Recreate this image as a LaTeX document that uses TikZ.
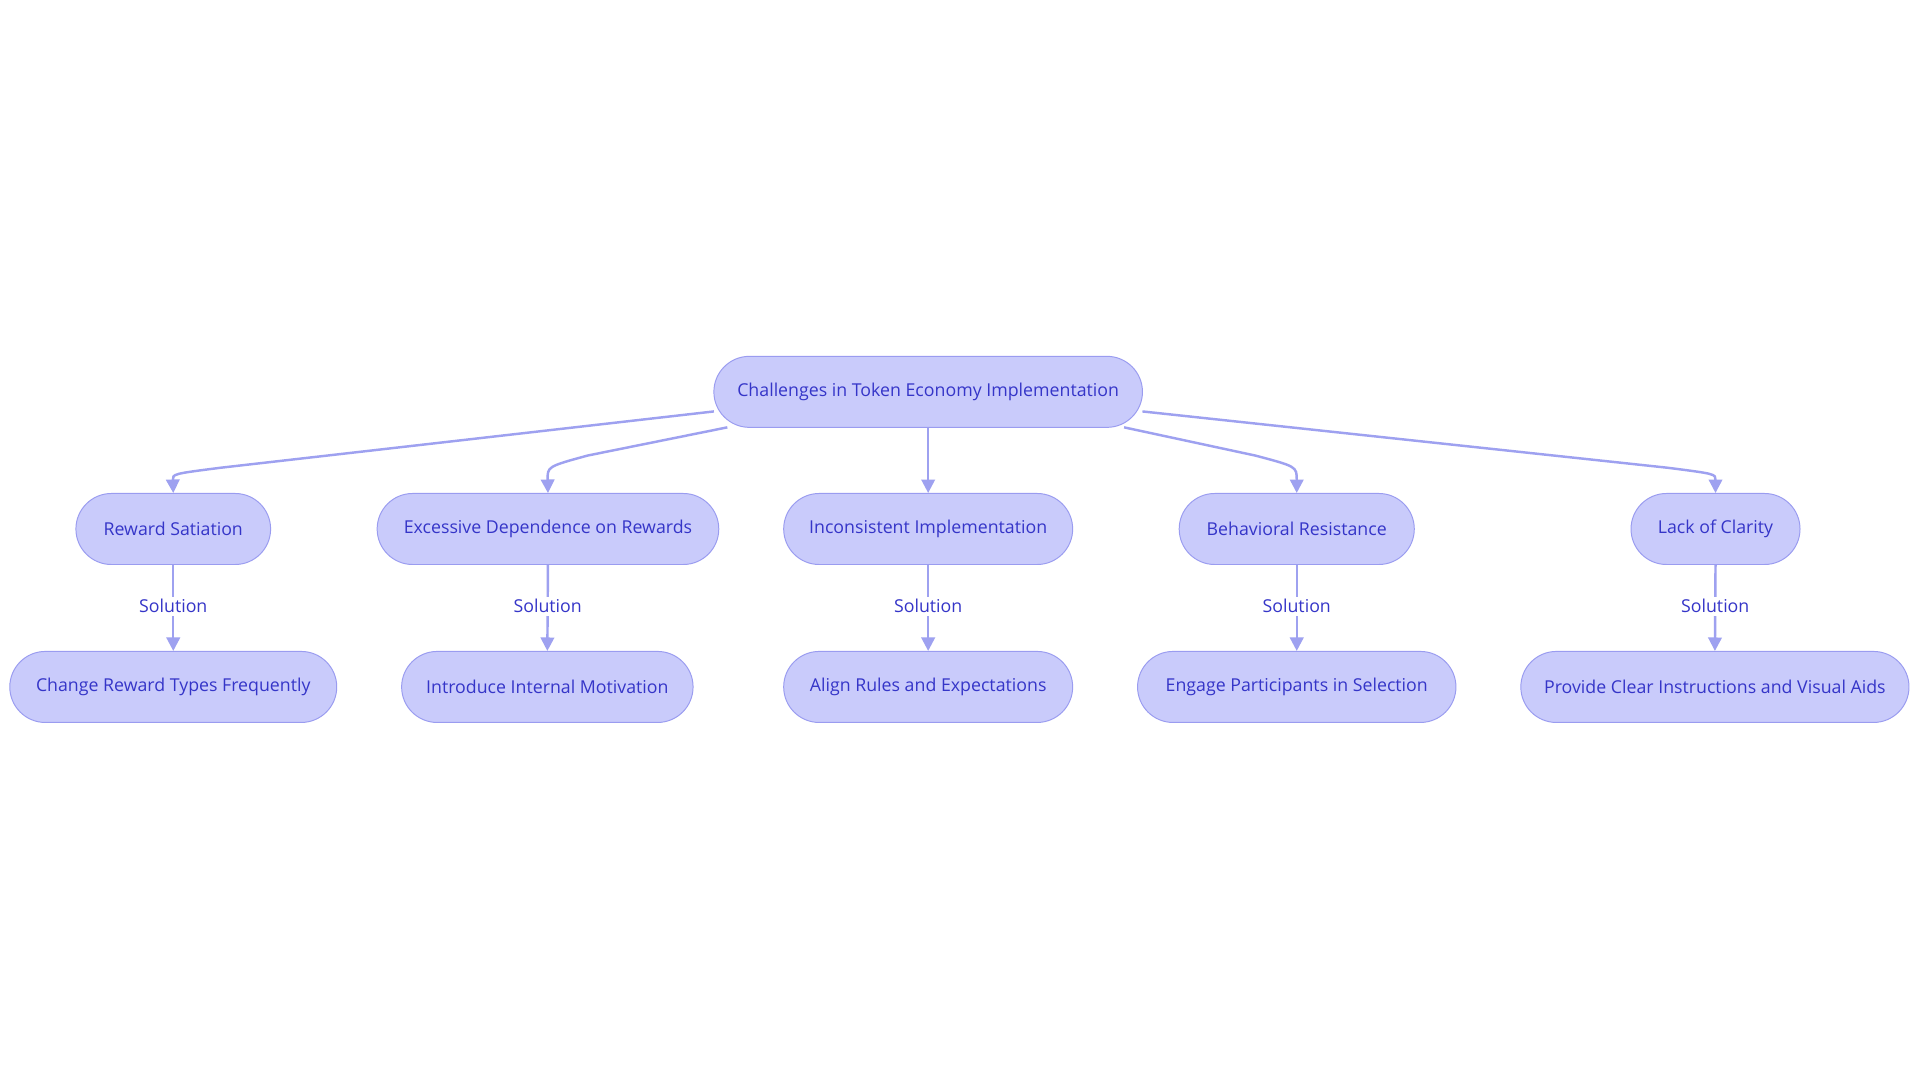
\documentclass[tikz,border=0pt]{standalone}
\usepackage{fontspec}
\setmainfont{Open Sans}
\usetikzlibrary{arrows.meta}
\definecolor{nfill}{HTML}{C9CBFB}
\definecolor{nline}{HTML}{9A9CF0}
\definecolor{ntext}{HTML}{3535C8}
\definecolor{eline}{HTML}{9EA1F0}
\tikzset{
 box/.style={draw=nline,fill=nfill,rounded corners=29pt,minimum height=58pt,text=ntext,font=\fontsize{14.5}{17}\selectfont,inner sep=0pt,line width=0.8pt},
 edge/.style={draw=eline,line width=2pt,-{Triangle[length=11pt,width=11pt]}},
 lbl/.style={fill=white,text=ntext,font=\fontsize{14.5}{17}\selectfont,inner sep=2pt}
}
\begin{document}
\begin{tikzpicture}[x=1pt,y=-1pt]
\useasboundingbox[fill=white] (0,0) rectangle (1568,884);
\node[box,minimum width=350pt] (root) at (758,320) {Challenges in Token Economy Implementation};
\node[box,minimum width=159pt] (a1) at (141.5,432) {Reward Satiation};
\node[box,minimum width=279pt] (a2) at (447.5,432) {Excessive Dependence on Rewards};
\node[box,minimum width=236pt] (a3) at (758,432) {Inconsistent Implementation};
\node[box,minimum width=192pt] (a4) at (1059,432) {Behavioral Resistance};
\node[box,minimum width=138pt] (a5) at (1401,432) {Lack of Clarity};
\node[box,minimum width=267pt] (b1) at (141.5,561) {Change Reward Types Frequently};
\node[box,minimum width=238pt] (b2) at (447,561) {Introduce Internal Motivation};
\node[box,minimum width=236pt] (b3) at (758,561) {Align Rules and Expectations};
\node[box,minimum width=260pt] (b4) at (1059,561) {Engage Participants in Selection};
\node[box,minimum width=317pt] (b5) at (1400.5,561) {Provide Clear Instructions and Visual Aids};
\coordinate (r1) at (583,336);
\coordinate (r2) at (594,349);
\coordinate (r4) at (918,349);
\coordinate (r5) at (933,336);
\coordinate (k1) at (180,382);
\coordinate (k2) at (480,372);
\coordinate (k4) at (1025,372);
\coordinate (k5) at (1362,382);
\draw[edge] (r1) -- (k1) .. controls (141,387) .. (a1.north);
\draw[edge] (r2) -- (k2) .. controls (447,381) .. (a2.north);
\draw[edge] (root.south) -- (a3.north);
\draw[edge] (r4) -- (k4) .. controls (1059,381) .. (a4.north);
\draw[edge] (r5) -- (k5) .. controls (1401,387) .. (a5.north);
\foreach \i in {1,...,5}{
 \draw[edge] (a\i.south) -- node[lbl,pos=0.48]{Solution} (b\i.north);
}
\end{tikzpicture}
\end{document}
